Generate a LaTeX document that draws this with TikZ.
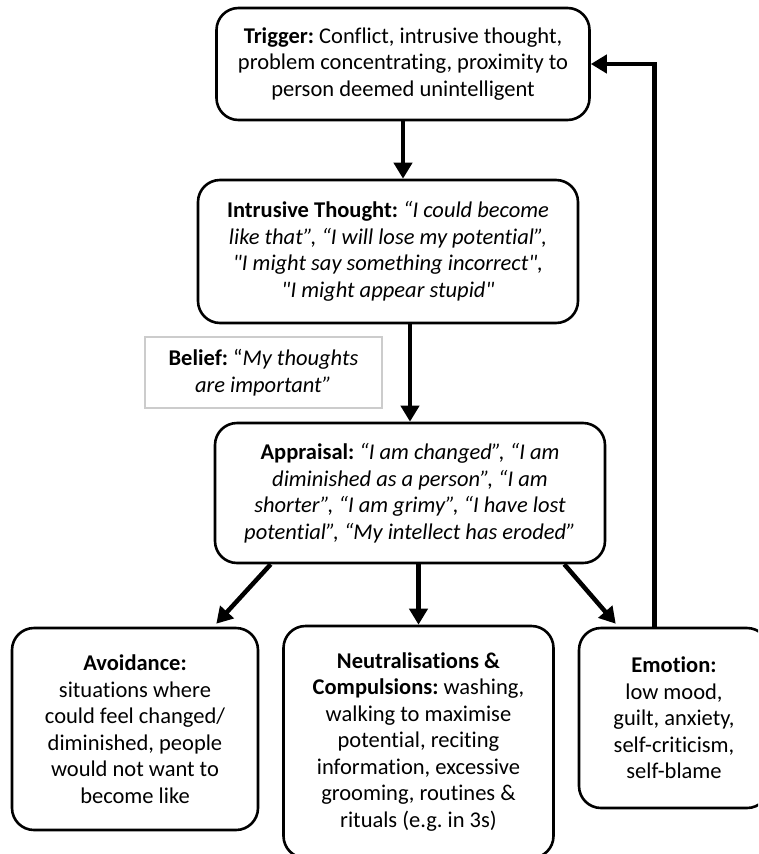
\documentclass[tikz,border=0pt]{standalone}
\usepackage{fontspec}
\setmainfont{Carlito}[Ligatures={TeXOff,NoCommon}]
\usetikzlibrary{calc,positioning,arrows.meta}

\tikzset{
    stage/.style={draw=black, line width=2.6pt, rounded corners=22pt, align=center,
        font=\fontsize{22.5pt}{26.5pt}\selectfont, inner sep=4pt},
    beliefbox/.style={draw=black!20, line width=1.6pt, align=center,
        font=\fontsize{22.5pt}{26.5pt}\selectfont},
    flow/.style={line width=4.5pt, -{Triangle[length=16pt,width=18pt]}}
}

\begin{document}
\frenchspacing
\begin{tikzpicture}[x=1pt,y=1pt]
        \useasboundingbox (0,0) rectangle (758,-854);
        \clip (0,0) rectangle (758,-854);

        % Top of the chain
        \node[stage, minimum width=373pt, minimum height=112pt] (trigger) at (403,-64)
            {\textbf{Trigger:} Conflict, intrusive thought,\\ problem concentrating, proximity to\\ person deemed unintelligent};
        \node[stage, minimum width=380pt, minimum height=143pt] (intrusive) at (388,-251.5)
            {\textbf{Intrusive Thought:} \textit{“I could become}\\ \textit{like that”, “I will lose my potential”,}\\
             \textit{"I might say something incorrect",}\\ \textit{"I might appear stupid"}};
        \node[beliefbox, minimum width=237pt, minimum height=71pt] (belief) at (263.5,-372.5)
            {\textbf{Belief:} “\textit{My thoughts}\\ \textit{are important”}};
        \node[stage, minimum width=390pt, minimum height=140pt] (appraisal) at (410,-493)
            {\textbf{Appraisal:} \textit{“I am changed”, “I am}\\ \textit{diminished as a person”, “I am}\\
             \textit{shorter”, “I am grimy”, “I have lost}\\ \textit{potential”, “My intellect has eroded”}};

        % Bottom row
        \node[stage, minimum width=246pt, minimum height=202pt] (avoid) at (135,-729)
            {\textbf{Avoidance:}\\ situations where\\ could feel changed/\\ diminished, people\\ would not want to\\ become like};
        \node[stage, minimum width=270pt, minimum height=232pt] (neutral) at (418.5,-742)
            {\textbf{Neutralisations \&}\\ \textbf{Compulsions:} washing,\\ walking to maximise\\ potential, reciting\\ information, excessive\\ grooming, routines \&\\ rituals (e.g. in 3s)};
        \node[stage, minimum width=190pt, minimum height=180pt] (emotion) at (674,-718)
            {\textbf{Emotion:}\\ low mood,\\ guilt, anxiety,\\ self-criticism,\\ self-blame};

        % Arrows
        \draw[flow] (trigger.south) -- (trigger.south |- intrusive.north);
        \draw[flow] (appraisal.north |- intrusive.south) -- (appraisal.north);
        \draw[flow] ($(appraisal.south west)+(57,0)$) -- ($(avoid.north east)+(-43,3)$);
        \draw[flow] (neutral.north |- appraisal.south) -- (neutral.north);
        \draw[flow] ($(appraisal.south east)+(-42,0)$) -- ($(emotion.north west)+(38,3)$);
        \draw[flow] ($(emotion.north west)+(77,0)$) |- (trigger.east);
\end{tikzpicture}
\end{document}
